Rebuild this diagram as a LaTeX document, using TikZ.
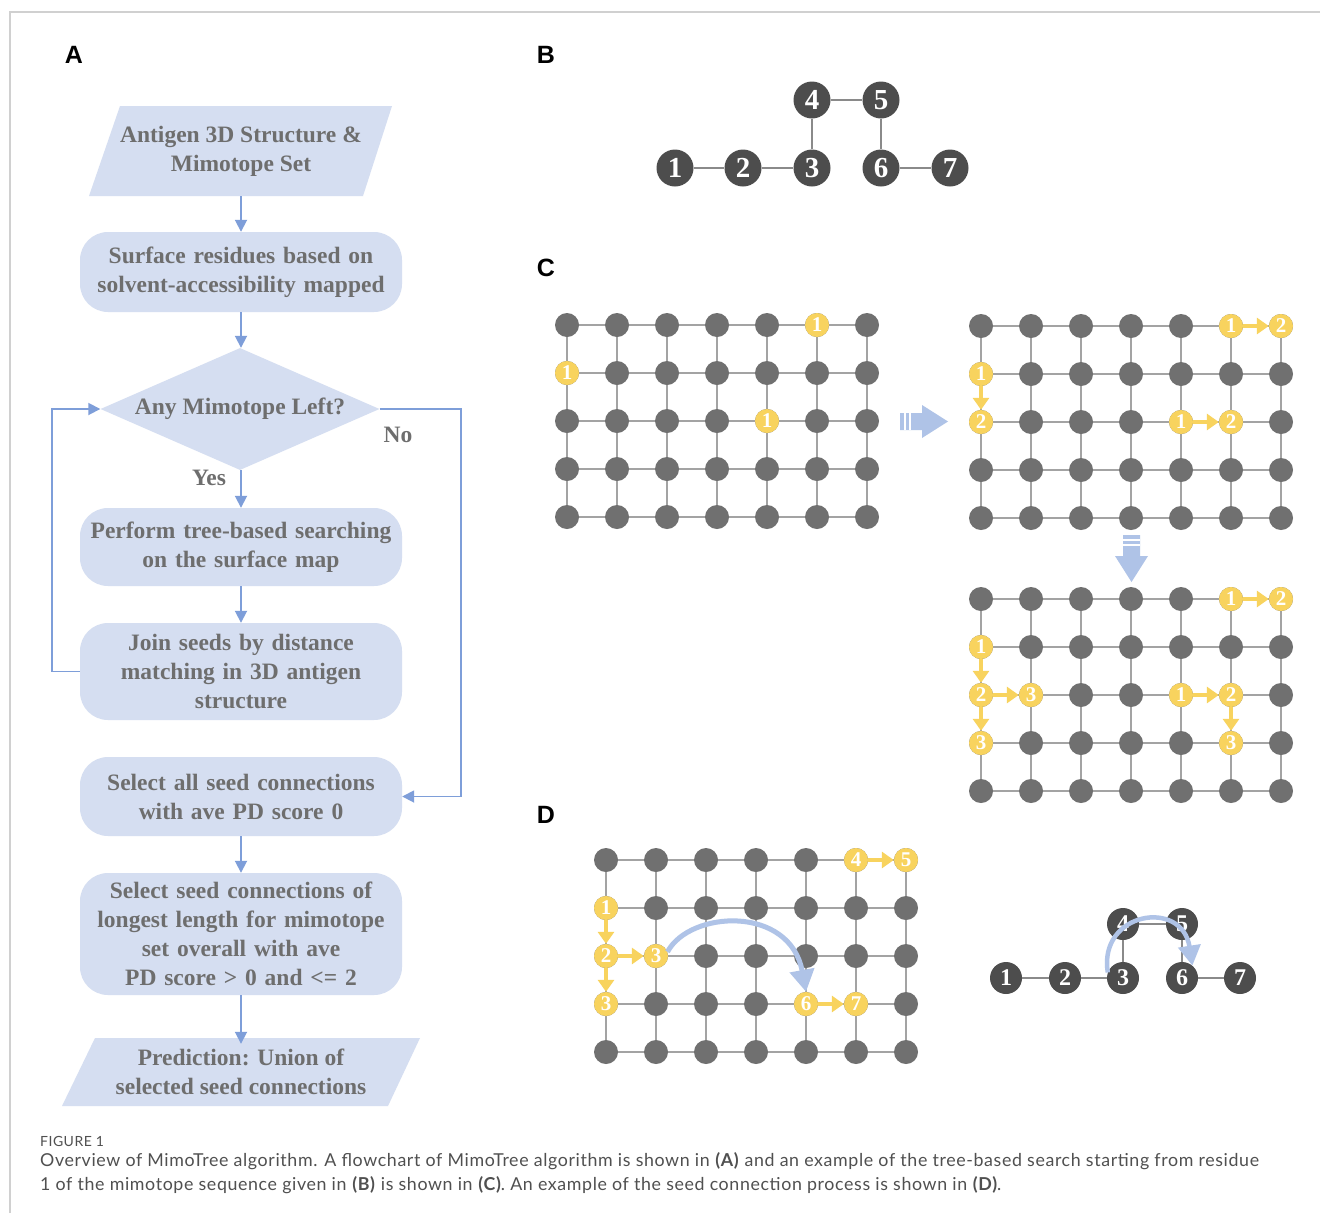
\documentclass[tikz,border=0pt]{standalone}
\usepackage{fontspec}
\usetikzlibrary{arrows.meta,shapes.geometric}
\setmainfont{Liberation Serif}
\newfontfamily\labfont{Liberation Sans}
\newfontfamily\capfont[LetterSpace=3.5]{Lato}
\definecolor{flow}{HTML}{D5DEF1}
\definecolor{flowtext}{HTML}{6E6E6E}
\definecolor{farr}{HTML}{7E9ED9}
\definecolor{blk}{HTML}{AFC3E7}
\definecolor{gnd}{HTML}{707070}
\definecolor{gln}{HTML}{A3A3A3}
\definecolor{ylw}{HTML}{F8D35E}
\definecolor{dnd}{HTML}{4D4D4D}
\definecolor{bln}{HTML}{8A8A8A}
\definecolor{framec}{HTML}{D0D0D0}
\definecolor{capc}{HTML}{505050}
\pgfdeclarelayer{back}
\pgfdeclarelayer{bg}
\pgfsetlayers{back,bg,main}
\newcommand\flowfont{\bfseries\fontsize{23.5}{29}\selectfont}
\newcommand\mkgrid[3]{%
  \foreach \i in {1,...,7}{\foreach \j in {1,...,5}{%
    \node[gnode] (#1-\i-\j) at ({#2+50*(\i-1)},{#3+48*(\j-1)}) {};}}
  \begin{pgfonlayer}{bg}
  \foreach \j in {1,...,5}{\draw[gline] (#1-1-\j.center) -- (#1-7-\j.center);}
  \foreach \i in {1,...,7}{\draw[gline] (#1-\i-1.center) -- (#1-\i-5.center);}
  \end{pgfonlayer}}
\tikzset{
  fbox/.style={rectangle, rounded corners=28pt, fill=flow, minimum width=322,
    text width=318, align=center, inner sep=0, font=\flowfont, text=flowtext},
  ftext/.style={align=center, inner sep=0, font=\flowfont, text=flowtext},
  farrow/.style={draw=farr, line width=1.8pt, -{Triangle[length=12pt,width=12pt]}},
  gnode/.style={circle, fill=gnd, minimum size=24, inner sep=0},
  gline/.style={draw=gln, line width=2pt},
  ynode/.style={circle, fill=ylw, minimum size=24, inner sep=0, text=white,
    font=\bfseries\fontsize{21}{21}\selectfont},
  yarr/.style={draw=ylw, line width=4pt, -{Triangle[length=12pt,width=16pt]}},
  bnode/.style={circle, fill=dnd, minimum size=37, inner sep=0, text=white,
    font=\bfseries\fontsize{29}{29}\selectfont},
  enode/.style={circle, fill=dnd, minimum size=32, inner sep=0, text=white,
    font=\bfseries\fontsize{24}{24}\selectfont},
  bline/.style={draw=bln, line width=2.5pt},
  barr/.style={draw=blk, line width=5pt, -{Triangle[length=22pt,width=24pt]}},
  plab/.style={font=\labfont\bfseries\fontsize{25}{25}\selectfont, inner sep=0},
  capt/.style={anchor=base west, inner sep=0, text=capc, font=\capfont\fontsize{17.8}{17.8}\selectfont},
}
\begin{document}
\begin{tikzpicture}[x=1pt,y=-1pt]
\useasboundingbox (0,0) rectangle (1320,1213);
\begin{pgfonlayer}{back}
\fill[white] (0,0) rectangle (1320,1213);
\end{pgfonlayer}
\draw[framec, line width=1.2pt] (10,1213) -- (10,12) -- (1320,12);

% panel labels
\node[plab] (lA) at (74,55) {A};
\node[plab] (lB) at (546,55) {B};
\node[plab] (lC) at (546,268) {C};
\node[plab] (lD) at (546,815) {D};

% ---------- flowchart ----------
\fill[flow] (120,106) -- (392,106) -- (363,196) -- (89,196) -- cycle;
\node[ftext, minimum width=272, minimum height=90] (in) at (241,151) {Antigen 3D Structure \&\\Mimotope Set};
\node[fbox, minimum height=80] (s1) at (241,272) {Surface residues based on\\solvent-accessibility mapped};
\node[diamond, aspect=2.29, minimum width=279, minimum height=122, fill=flow, inner sep=0,
      font=\flowfont, text=flowtext] (q) at (240,409) {Any Mimotope Left?};
\node[fbox, minimum height=78] (tree) at (241,547) {Perform tree-based searching\\on the surface map};
\node[fbox, minimum height=97] (join) at (241,671.5) {Join seeds by distance\\matching in 3D antigen\\structure};
\node[fbox, minimum height=79] (sel) at (241,796.5) {Select all seed connections\\with ave PD score 0};
\node[fbox, minimum height=122] (long) at (241,934) {Select seed connections of\\longest length for mimotope\\set overall with ave\\PD score {\fontspec{Liberation Serif Bold}>} 0 and {\fontspec{Liberation Serif Bold}<}= 2};
\fill[flow] (95,1038) -- (420,1038) -- (388,1106) -- (62,1106) -- cycle;
\node[ftext, minimum width=290, minimum height=68] (out) at (241,1072) {Prediction: Union of\\selected seed connections};

\draw[farrow] (in.south) -- (s1.north);
\draw[farrow] (s1.south) -- (s1.south |- q.north);
\draw[farrow] (q.south -| tree.north) -- (tree.north);
\draw[farrow] (tree.south) -- (join.north);
\draw[farrow] (sel.south) -- (long.north);
\draw[farrow] (long.south) -- ([yshift=-6]out.north);
\draw[farrow] (join.west) -- ++(-28,0) |- (q.west);
\draw[farrow] (q.east) -- ++(81,0) |- (sel.east);
\node[ftext] (yes) at (209,478) {Yes};
\node[ftext] (no) at (398,435) {No};

% ---------- panel B ----------
\node[bnode] (b1) at (675,168) {1};
\node[bnode] (b2) at (743,168) {2};
\node[bnode] (b3) at (812,168) {3};
\node[bnode] (b4) at (812,100) {4};
\node[bnode] (b5) at (881,100) {5};
\node[bnode] (b6) at (881,168) {6};
\node[bnode] (b7) at (950,168) {7};
\draw[bline] (b1) -- (b2);
\draw[bline] (b2) -- (b3);
\draw[bline] (b3) -- (b4);
\draw[bline] (b4) -- (b5);
\draw[bline] (b5) -- (b6);
\draw[bline] (b6) -- (b7);

% ---------- panel C ----------
\mkgrid{ga}{567}{325}
\node[ynode] (a1) at (ga-6-1) {1};
\node[ynode] (a2) at (ga-1-2) {1};
\node[ynode] (a3) at (ga-5-3) {1};

\fill[blk] (900,413) -- (922,413) -- (922,405) -- (948,421.5) -- (922,438) -- (922,430) -- (900,430) -- cycle;
\draw[white, line width=1.2pt] (905,413) -- (905,430) (910,413) -- (910,430);

\mkgrid{gb}{981}{326}
\node[ynode] (ba1) at (gb-6-1) {1};
\node[ynode] (ba2) at (gb-7-1) {2};
\node[ynode] (bb1) at (gb-1-2) {1};
\node[ynode] (bb2) at (gb-1-3) {2};
\node[ynode] (bc1) at (gb-5-3) {1};
\node[ynode] (bc2) at (gb-6-3) {2};
\draw[yarr] (ba1) -- (ba2);
\draw[yarr] (bb1) -- (bb2);
\draw[yarr] (bc1) -- (bc2);

\fill[blk] (1123,535) -- (1140,535) -- (1140,556) -- (1148,556) -- (1131.5,582) -- (1115,556) -- (1123,556) -- cycle;
\draw[white, line width=1.2pt] (1123,540) -- (1140,540) (1123,545) -- (1140,545);

\mkgrid{gc}{981}{599}
\node[ynode] (ca1) at (gc-6-1) {1};
\node[ynode] (ca2) at (gc-7-1) {2};
\node[ynode] (cb1) at (gc-1-2) {1};
\node[ynode] (cb2) at (gc-1-3) {2};
\node[ynode] (cb3) at (gc-2-3) {3};
\node[ynode] (cb4) at (gc-1-4) {3};
\node[ynode] (cc1) at (gc-5-3) {1};
\node[ynode] (cc2) at (gc-6-3) {2};
\node[ynode] (cc3) at (gc-6-4) {3};
\draw[yarr] (ca1) -- (ca2);
\draw[yarr] (cb1) -- (cb2);
\draw[yarr] (cb2) -- (cb3);
\draw[yarr] (cb2) -- (cb4);
\draw[yarr] (cc1) -- (cc2);
\draw[yarr] (cc2) -- (cc3);

% ---------- panel D ----------
\mkgrid{gd}{606}{860}
\node[ynode] (d4) at (gd-6-1) {4};
\node[ynode] (d5) at (gd-7-1) {5};
\node[ynode] (d1) at (gd-1-2) {1};
\node[ynode] (d2) at (gd-1-3) {2};
\node[ynode] (d3) at (gd-2-3) {3};
\node[ynode] (d3b) at (gd-1-4) {3};
\node[ynode] (d6) at (gd-5-4) {6};
\node[ynode] (d7) at (gd-6-4) {7};
\draw[yarr] (d4) -- (d5);
\draw[yarr] (d1) -- (d2);
\draw[yarr] (d2) -- (d3);
\draw[yarr] (d2) -- (d3b);
\draw[yarr] (d6) -- (d7);
\draw[barr] (d3.20) .. controls (690,910) and (790,905) .. (d6.north);

\node[enode] (e1) at (1006,978) {1};
\node[enode] (e2) at (1065,978) {2};
\node[enode] (e3) at (1123,978) {3};
\node[enode] (e4) at (1123,924) {4};
\node[enode] (e5) at (1182,924) {5};
\node[enode] (e6) at (1182,978) {6};
\node[enode] (e7) at (1240,978) {7};
\draw[bline] (e1) -- (e2);
\draw[bline] (e2) -- (e3);
\draw[bline] (e3) -- (e4);
\draw[bline] (e4) -- (e5);
\draw[bline] (e5) -- (e6);
\draw[bline] (e6) -- (e7);
\draw[draw=blk, line width=4.5pt, -{Triangle[length=20pt,width=22pt]}] (e3.160) .. controls (1098,912) and (1182,898) .. (e6.50);

% ---------- caption ----------
\node[capt, font=\capfont\fontsize{14}{14}\selectfont] (fig) at (40,1146) {FIGURE 1};
\node[capt] (cap1) at (40,1166) {Overview of MimoTree algorithm. A flowchart of MimoTree algorithm is shown in \textbf{(A)} and an example of the tree-based search starting from residue};
\node[capt] (cap2) at (40,1190) {1 of the mimotope sequence given in \textbf{(B)} is shown in \textbf{(C)}. An example of the seed connection process is shown in \textbf{(D)}.};
\end{tikzpicture}
\end{document}
